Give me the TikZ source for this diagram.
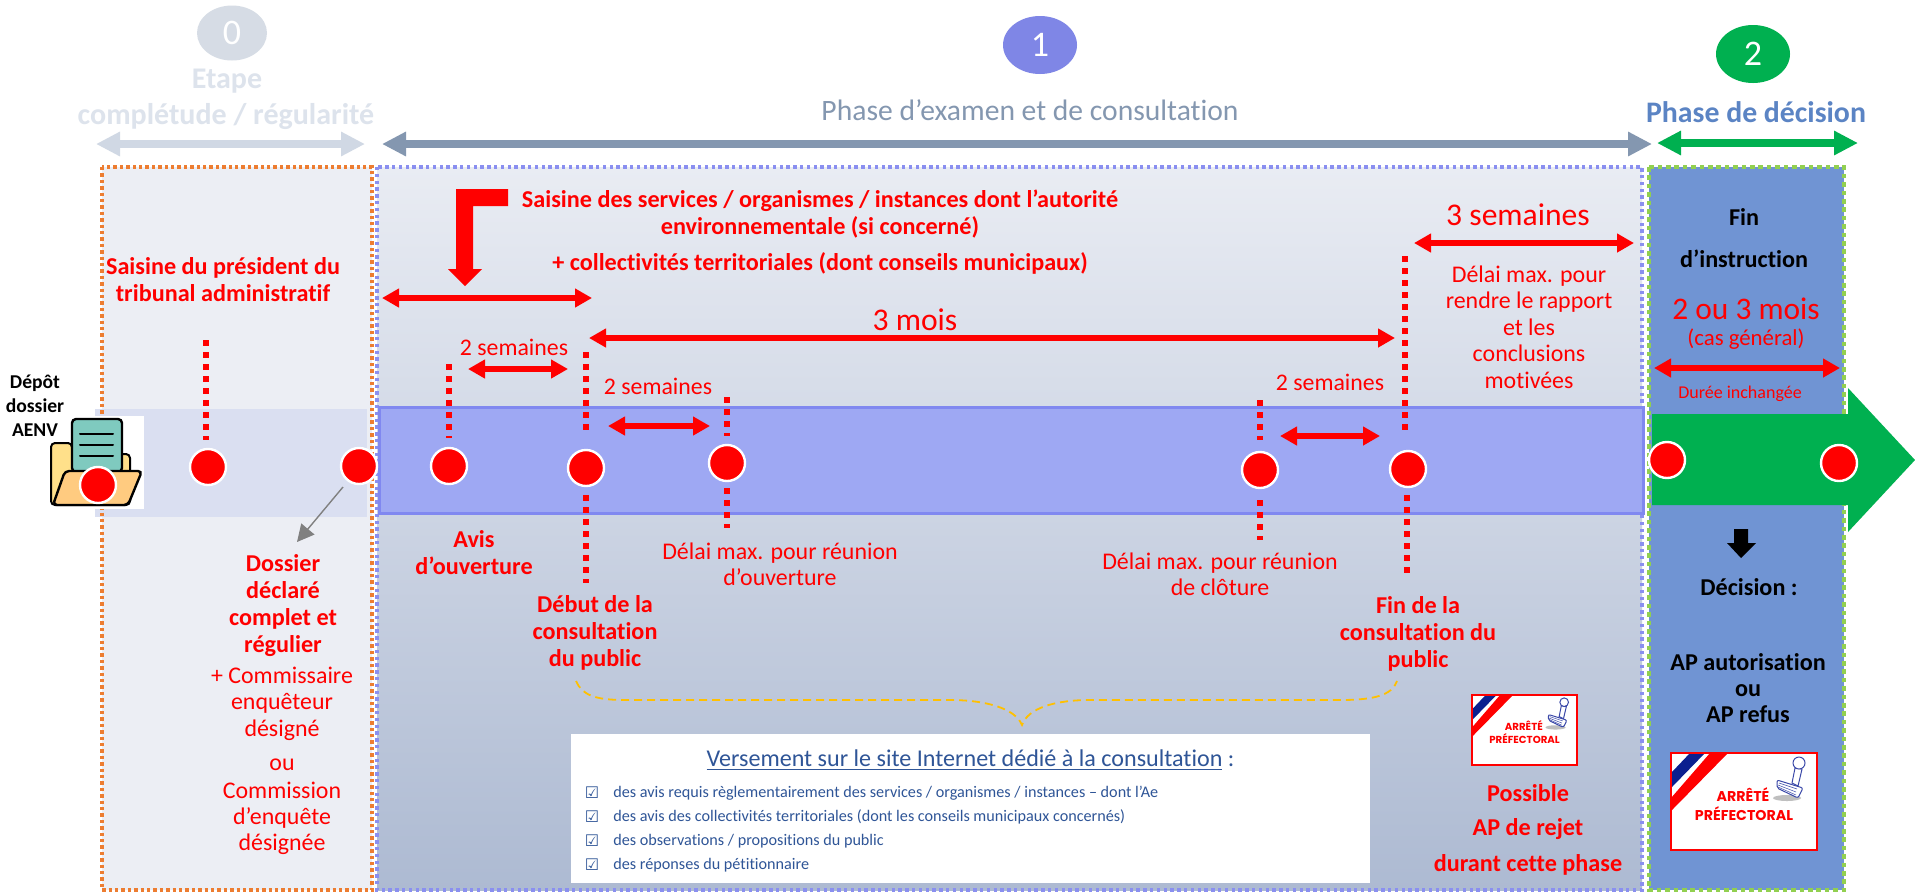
\documentclass[tikz,border=0pt]{standalone}
\usepackage{fontspec}
\setmainfont{Carlito}[Ligatures={NoCommon,NoRare}]
\newfontfamily\dejavu{DejaVu Sans}
\newfontfamily\pop{Poppins}
\usetikzlibrary{arrows.meta,calc,shapes.geometric}
\definecolor{grey0}{HTML}{D6DCE5}
\definecolor{arrow0}{HTML}{D0D8E4}
\definecolor{text0}{HTML}{DDE3EC}
\definecolor{slate}{HTML}{8497B0}
\definecolor{violet1}{HTML}{7F86E6}
\definecolor{green2}{HTML}{00B050}
\definecolor{phase2}{HTML}{5B84C4}
\definecolor{orangeB}{HTML}{ED7D31}
\definecolor{blueB}{HTML}{8A8FF0}
\definecolor{greenB}{HTML}{92D050}
\definecolor{panel0}{HTML}{ECEEF4}
\definecolor{panel1t}{HTML}{E9ECF3}
\definecolor{panel1b}{HTML}{ADBAD2}
\definecolor{panel2}{HTML}{7094D3}
\definecolor{band0}{HTML}{DADFF1}
\definecolor{band1}{HTML}{9EA8F3}
\definecolor{band1B}{HTML}{8088F0}
\definecolor{navytxt}{HTML}{2F5597}
\definecolor{braceC}{HTML}{FFC000}
\definecolor{tricol}{HTML}{0B1F8F}
\definecolor{stampC}{HTML}{3A48A8}
\definecolor{foldY}{HTML}{FFE08A}
\definecolor{foldO}{HTML}{FFCB80}
\definecolor{paper}{HTML}{7FCABF}
\tikzset{
  fatr/.style={draw=red,line width=3.2pt,{Triangle[length=8.5pt,width=9pt]}-{Triangle[length=8.5pt,width=9pt]}},
  fatg/.style={line width=4pt,{Triangle[length=12pt,width=11.5pt]}-{Triangle[length=12pt,width=11.5pt]}},
  reddots/.style={draw=red,line width=2.8pt,dash pattern=on 2.8pt off 3.2pt},
  evt/.style={circle,fill=red,draw=white,line width=1.2pt,minimum size=18pt,inner sep=0pt},
  redb/.style={text=red,align=center,inner sep=0pt,font=\bfseries\fontsize{12.1}{13.5}\selectfont},
  redr/.style={text=red,align=center,inner sep=0pt,font=\fontsize{11.95}{13.2}\selectfont},
  redsem/.style={text=red,align=center,inner sep=0pt,font=\fontsize{11.9}{13}\selectfont},
  blk/.style={text=black,align=center,inner sep=0pt,font=\bfseries\fontsize{12.1}{13.2}\selectfont},
  listitem/.style={text=navytxt,anchor=west,inner sep=0pt,font=\fontsize{8.09}{9}\selectfont},
  chk/.style={text=navytxt,inner sep=0pt,font=\dejavu\fontsize{8}{9}\selectfont},
  num/.style={ellipse,inner sep=0pt,text=white,font=\fontsize{18}{20}\selectfont},
}
\newcommand{\arretestamp}[5]{% name, x, y, scale, font size
  \begin{scope}[shift={(#2,#3)},scale=#4]
    \fill[white] (0,0) rectangle (146,97);
    \fill[tricol] (19,0)--(34,0)--(0,35)--(0,20)--cycle;
    \fill[red] (39,0)--(57,0)--(0,58)--(0,45)--cycle;
    \fill[black!25] (116,45) ellipse (14 and 3);
    \filldraw[fill=white,draw=stampC,line width=0.5pt] (124,15)--(121,30)--(127,33)--(131,16)--cycle;
    \filldraw[fill=white,draw=stampC,line width=0.5pt] (128,10) circle (6);
    \filldraw[fill=white,draw=stampC,line width=0.5pt,rounded corners=1pt] (106,27)--(132,35)--(127,45)--(106,35)--cycle;
    \draw[stampC,line width=0.25pt] (108,30)--(126,36) (107,32)--(125,39) (107,34)--(125,42);
    \draw[red,line width=1.2pt] (0,0) rectangle (146,97);
    \node[inner sep=0pt,text=red,font=\pop\bfseries\fontsize{#5}{#5}\selectfont] (#1a) at (72,42) {ARRÊTÉ};
    \node[inner sep=0pt,text=red,font=\pop\bfseries\fontsize{#5}{#5}\selectfont] (#1p) at (73,61) {PRÉFECTORAL};
  \end{scope}
}
\begin{document}
\begin{tikzpicture}[x=0.5pt,y=-0.5pt]
\useasboundingbox (0,0) rectangle (1915,891);
\fill[white] (0,0) rectangle (1915,891);

% panels
\fill[panel0] (102,167) rectangle (372,890);
\shade[top color=panel1t,bottom color=panel1b] (377,167) rectangle (1642,890);
\fill[panel2] (1649,167) rectangle (1844,890);
\fill[band0] (95,409) rectangle (367,517);
\draw[orangeB,line width=1.7pt,dash pattern=on 1.7pt off 1.5pt] (102,167) rectangle (372,890);
\draw[blueB,line width=1.7pt,dash pattern=on 1.7pt off 1.7pt] (377,167) rectangle (1642,890);
\draw[greenB,line width=1.7pt,dash pattern=on 2.3pt off 1.9pt] (1649,167) rectangle (1844,890);

% bands
\draw[fill=band1,draw=band1B,line width=1.5pt] (379,407) rectangle (1643,513);
\fill[green2] (1652,414)--(1848,414)--(1848,388)--(1915,460)--(1848,532)--(1848,505)--(1652,505)--cycle;

% folder
\fill[white] (50,416) rectangle (144,509);
\filldraw[fill=foldY,draw=black,line width=1pt,rounded corners=2pt] (51,505)--(51,443)--(72,443)--(72,454)--(130,454)--(130,505)--cycle;
\filldraw[fill=paper,draw=black,line width=1.2pt,rounded corners=2pt] (72,472)--(72,419)--(122,419)--(122,472)--cycle;
\draw[black,line width=1pt,line cap=round] (80,434)--(113,434) (80,445)--(113,445) (80,456)--(113,456);
\filldraw[fill=foldO,draw=black,line width=1.2pt,rounded corners=2pt] (65,471)--(142,471)--(128,505)--(53,505)--cycle;

% header
\node[num,fill=grey0,minimum width=35pt,minimum height=27.5pt] (n0) at (232,33) {0};
\node[num,fill=violet1,minimum width=37pt,minimum height=29pt] (n1) at (1040,45) {1};
\node[num,fill=green2,minimum width=37pt,minimum height=29pt] (n2) at (1753,54) {2};
\node[text=text0,inner sep=0pt,font=\bfseries\fontsize{15}{17}\selectfont] (t0a) at (227,81) {Etape};
\node[text=text0,inner sep=0pt,font=\bfseries\fontsize{15}{17}\selectfont] (t0b) at (226,117) {complétude / régularité};
\node[text=slate,inner sep=0pt,font=\fontsize{14.8}{17}\selectfont] (t1) at (1030,110) {Phase d’examen et de consultation};
\node[text=phase2,inner sep=0pt,font=\bfseries\fontsize{14.9}{17}\selectfont] (t2) at (1756,112) {Phase de décision};
\coordinate (h0a) at (96,144); \coordinate (h0b) at (365,144);
\coordinate (h1a) at (382,144); \coordinate (h1b) at (1652,144);
\coordinate (h2a) at (1657,143); \coordinate (h2b) at (1858,143);
\draw[fatg,draw=arrow0] (h0a)--(h0b);
\draw[fatg,draw=slate] (h1a)--(h1b);
\draw[fatg,draw=green2] (h2a)--(h2b);

% event circles
\node[evt] (c0) at (98,485) {};
\node[evt] (c1) at (208,467) {};
\node[evt] (c2) at (359,466) {};
\node[evt] (c3) at (449,466) {};
\node[evt] (c4) at (586,468) {};
\node[evt] (c5) at (727,463) {};
\node[evt] (c6) at (1260,470) {};
\node[evt] (c7) at (1408,469) {};
\node[evt] (c8) at (1667,460) {};
\node[evt] (c9) at (1839,463) {};

% dotted leaders
\coordinate (d1a) at (206,340); \coordinate (d1b) at (206,440);
\coordinate (d3a) at (449,364); \coordinate (d3b) at (449,438);
\coordinate (d4a) at (586,352); \coordinate (d4b) at (586,430);
\coordinate (d4c) at (586,495); \coordinate (d4d) at (586,583);
\coordinate (d5a) at (727,397); \coordinate (d5b) at (727,436);
\coordinate (d5c) at (727,488); \coordinate (d5d) at (727,528);
\coordinate (d6a) at (1260,400); \coordinate (d6b) at (1260,440);
\coordinate (d6c) at (1260,500); \coordinate (d6d) at (1260,540);
\coordinate (d7a) at (1405,256); \coordinate (d7b) at (1405,430);
\coordinate (d7c) at (1407,495); \coordinate (d7d) at (1407,576);
\foreach \a/\b in {d1a/d1b,d3a/d3b,d4a/d4b,d4c/d4d,d5a/d5b,d5c/d5d,d6a/d6b,d6c/d6d,d7a/d7b,d7c/d7d}
  \draw[reddots] (\a)--(\b);

% span arrows
\coordinate (s1a) at (382,298); \coordinate (s1b) at (592,298);
\coordinate (s2a) at (589,338); \coordinate (s2b) at (1395,338);
\coordinate (s3a) at (468,369); \coordinate (s3b) at (568,369);
\coordinate (s4a) at (608,426); \coordinate (s4b) at (710,426);
\coordinate (s5a) at (1280,436); \coordinate (s5b) at (1380,436);
\coordinate (s6a) at (1414,243); \coordinate (s6b) at (1634,243);
\coordinate (s7a) at (1654,368); \coordinate (s7b) at (1840,368);
\foreach \a/\b in {s1a/s1b,s2a/s2b,s3a/s3b,s4a/s4b,s5a/s5b,s6a/s6b,s7a/s7b}
  \draw[fatr] (\a)--(\b);

% bent arrow
\fill[red] (508,189)--(456,189)--(456,269)--(448,269)--(465,286)--(482,269)--(473,269)--(473,206)--(508,206)--cycle;

% grey arrow
\coordinate (ga) at (343,487); \coordinate (gb) at (297,542);
\draw[black!50,line width=0.7pt,-{Triangle[length=8.5pt,width=8.5pt]}] (ga)--(gb);

% text left
\node[blk,font=\bfseries\fontsize{9.8}{12}\selectfont] (depot) at (35,406) {Dépôt\\dossier\\AENV};
\node[redb] (saisTA) at (223,280) {Saisine du président du\\tribunal administratif};
\node[redb] (complet) at (283,606) {Dossier\\déclaré\\complet et\\régulier};
\node[redr] (comm) at (282,761) {+ Commissaire\\enquêteur\\désigné\\[4pt]ou\\[0.5pt]Commission\\d’enquête\\désignée};

% text middle
\node[redb] (sais) at (820,214) {Saisine des services / organismes / instances dont l’autorité\\environnementale (si concerné)};
\node[redb] (coll) at (820,263) {+ collectivités territoriales (dont conseils municipaux)};
\node[text=red,inner sep=0pt,font=\fontsize{15.8}{18}\selectfont] (mois) at (915,320) {3 mois};
\node[redsem] (sem1) at (514,347) {2 semaines};
\node[redsem] (sem2) at (658,386) {2 semaines};
\node[redsem] (sem3) at (1330,382) {2 semaines};
\node[redb] (avis) at (474,553) {Avis\\d’ouverture};
\node[redr] (reunA) at (780,564) {Délai max. pour réunion\\d’ouverture};
\node[redb] (debut) at (595,633) {Début de la\\consultation\\du public};
\node[redr] (reunB) at (1220,574) {Délai max. pour réunion\\de clôture};
\node[redb] (fin) at (1418,634) {Fin de la\\consultation du\\public};
\node[text=red,inner sep=0pt,font=\fontsize{15.8}{18}\selectfont] (sem4) at (1518,215) {3 semaines};
\node[redr] (delai) at (1529,327) {Délai max. pour\\rendre le rapport\\et les\\conclusions\\motivées};

% brace
\coordinate (bl) at (576,681); \coordinate (bm) at (1022,725); \coordinate (br) at (1397,681);
\draw[braceC,line width=0.9pt,dash pattern=on 4pt off 2.5pt]
  (bl) .. controls (582,695) and (595,700) .. (625,700) -- (950,700) .. controls (985,700) and (1015,708) .. (bm)
  .. controls (1028,708) and (1055,700) .. (1090,700) -- (1340,700) .. controls (1375,700) and (1392,695) .. (br);

% white box
\node[fill=white,inner sep=0pt,minimum width=399.5pt,minimum height=74.5pt] (box) at (970.5,808.5) {};
\node[inner sep=0pt,text=navytxt,font=\fontsize{12.05}{14}\selectfont] (vers) at (970.5,760) {\underline{Versement sur le site Internet dédié à la consultation} :};
\node[chk] (k1) at (592,793) {☑};
\node[chk] (k2) at (592,817) {☑};
\node[chk] (k3) at (592,841) {☑};
\node[chk] (k4) at (592,865) {☑};
\node[listitem] (i1) at (613,793) {des avis requis règlementairement des services / organismes / instances – dont l’Ae};
\node[listitem] (i2) at (613,817) {des avis des collectivités territoriales (dont les conseils municipaux concernés)};
\node[listitem] (i3) at (613,841) {des observations / propositions du public};
\node[listitem] (i4) at (613,865) {des réponses du pétitionnaire};

% rejet
\arretestamp{sa}{1472}{695}{0.72}{5.1}
\node[redb] (pos) at (1528,793) {Possible};
\node[redb] (rej) at (1528,829) {AP de rejet};
\node[redb] (dur) at (1528,865) {durant cette phase};

% panel 2
\node[blk] (finI) at (1744,217) {Fin};
\node[blk] (dinst) at (1744,259) {d’instruction};
\node[text=red,inner sep=0pt,font=\fontsize{15.7}{18}\selectfont] (deux) at (1746,309) {2 ou 3 mois};
\node[text=red,inner sep=0pt,font=\fontsize{11.4}{13}\selectfont] (cas) at (1746,339) {(cas général)};
\node[text=red,inner sep=0pt,font=\fontsize{9}{11}\selectfont] (dur2) at (1740,394) {Durée inchangée};
\fill[black] (1734,529)--(1748,529)--(1748,543)--(1756,543)--(1741,558)--(1727,543)--(1734,543)--cycle;
\node[blk] (dec) at (1749,587) {Décision :};
\node[blk] (apa) at (1748,688) {AP autorisation\\ou\\AP refus};
\arretestamp{sb}{1671}{753}{1}{7.1}
\end{tikzpicture}
\end{document}
